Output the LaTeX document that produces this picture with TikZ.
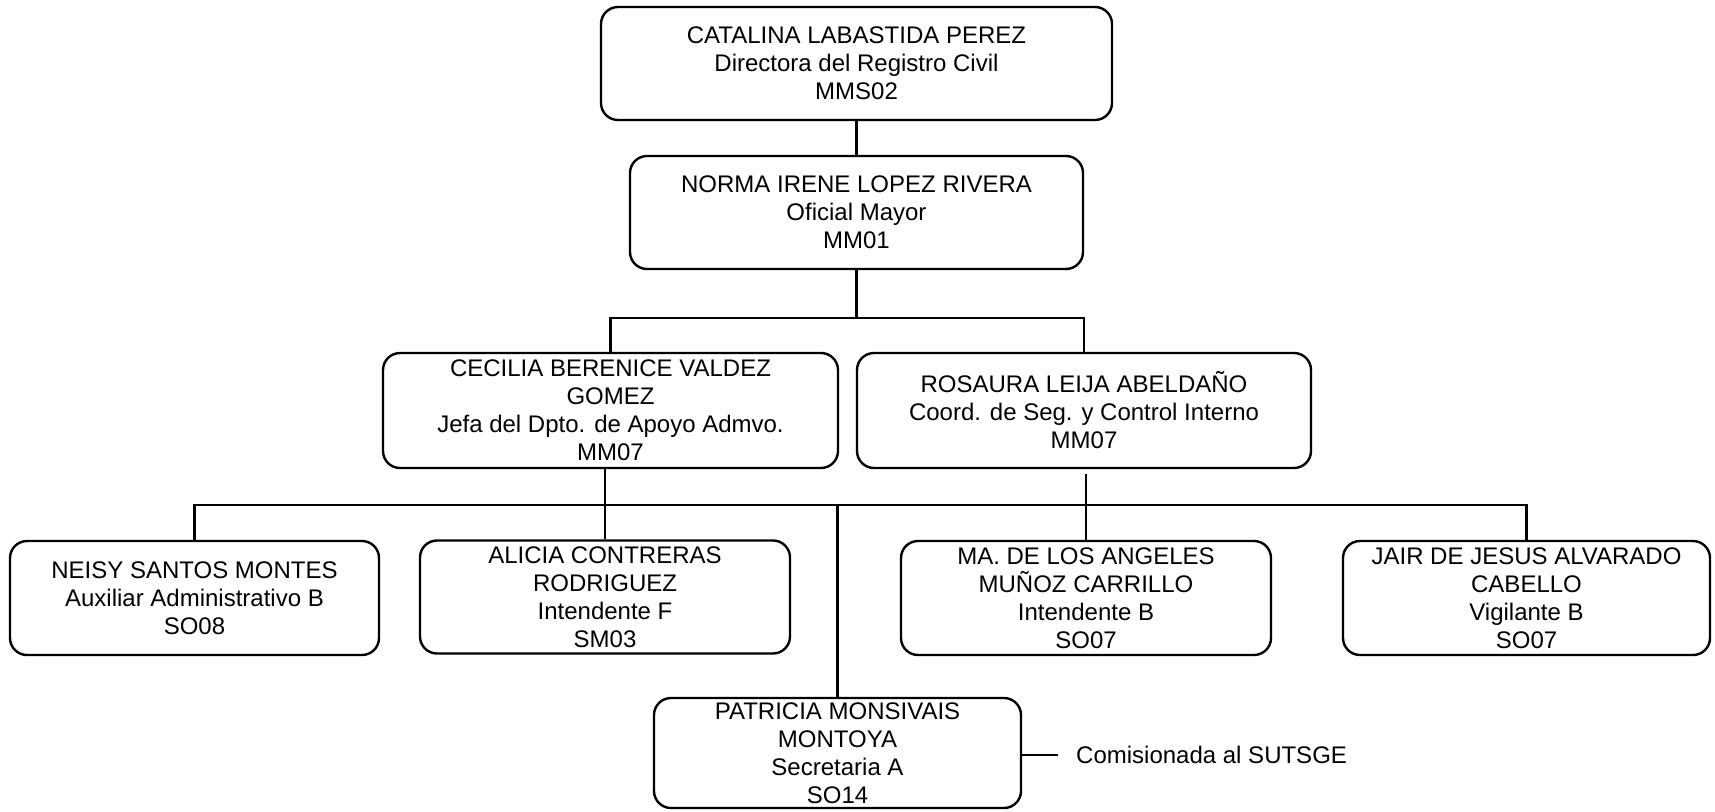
\documentclass[tikz,border=0pt]{standalone}
\usepackage{fontspec}
\setmainfont{Liberation Sans}
\begin{document}
\begin{tikzpicture}[x=1pt,y=-1pt,
  orgbox/.style={draw, line width=2.4pt, rounded corners=17pt, inner sep=0pt,
    align=center, font=\fontsize{24}{28}\selectfont},
  link/.style={line width=2.2pt}]
\useasboundingbox (0,0) rectangle (1715,811);
\node[orgbox, minimum width=511pt, minimum height=113pt] (b1) at (856.5,63.5)
  {CATALINA LABASTIDA PEREZ\\Directora del Registro Civil\\MMS02};
\node[orgbox, minimum width=453pt, minimum height=113pt] (b2) at (856.5,212.5)
  {NORMA IRENE LOPEZ RIVERA\\Oficial Mayor\\MM01};
\node[orgbox, minimum width=455pt, minimum height=115pt] (b3) at (610.5,410.5)
  {CECILIA BERENICE VALDEZ\\GOMEZ\\Jefa del Dpto. de Apoyo Admvo.\\MM07};
\node[orgbox, minimum width=454pt, minimum height=115pt] (b4) at (1084,410.5)
  {ROSAURA LEIJA ABELDAÑO\\Coord. de Seg. y Control Interno\\MM07};
\node[orgbox, minimum width=369pt, minimum height=114pt] (n1) at (194.5,598)
  {NEISY SANTOS MONTES\\Auxiliar Administrativo B\\SO08};
\node[orgbox, minimum width=370pt, minimum height=113pt] (n2) at (605,597)
  {ALICIA CONTRERAS\\RODRIGUEZ\\Intendente F\\SM03};
\node[orgbox, minimum width=370pt, minimum height=114pt] (n3) at (1086,598)
  {MA. DE LOS ANGELES\\MUÑOZ CARRILLO\\Intendente B\\SO07};
\node[orgbox, minimum width=367pt, minimum height=114pt] (n4) at (1526.5,598)
  {JAIR DE JESUS ALVARADO\\CABELLO\\Vigilante B\\SO07};
\node[orgbox, minimum width=367pt, minimum height=110pt] (n5) at (837.5,753)
  {PATRICIA MONSIVAIS\\MONTOYA\\Secretaria A\\SO14};
\node[anchor=west, inner sep=0pt, font=\fontsize{24}{28}\selectfont] (com) at (1076,755)
  {Comisionada al SUTSGE};
\coordinate (j1) at (856.5,318);
\coordinate (bus) at (837.5,505);
\coordinate (c1) at (1058,755);
\draw[link] (b1.south) -- (b2.north);
\draw[link] (b2.south) -- (j1);
\draw[link] (b3.north) |- (j1) -| (b4.north);
\draw[link] (n1.north) |- (bus) -| (n4.north);
\draw[link] (bus) -- (n5.north);
\draw[link] (n2.north |- b3.south) -- (n2.north);
\draw[link, shorten <=5pt] (n3.north |- b4.south) -- (n3.north);
\draw[link] (n5.east |- c1) -- (c1);
\end{tikzpicture}
\end{document}
